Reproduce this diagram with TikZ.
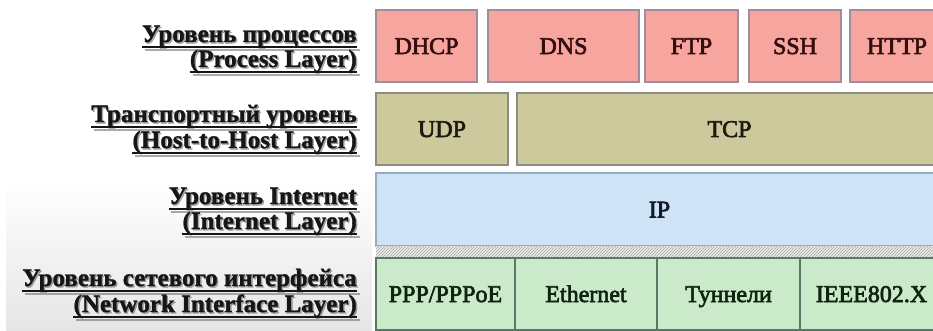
\documentclass[tikz,border=0pt]{standalone}
\usepackage{fontspec}
\setmainfont{Liberation Serif}
\newfontfamily\cellfont[FakeBold=2.6]{Liberation Serif}
\newfontfamily\capfont[BoldFeatures={FakeBold=1.2}]{Liberation Serif}
\usetikzlibrary{patterns}

% colours of the four protocol layers
\definecolor{procfill}{RGB}{246,166,158}
\definecolor{procline}{RGB}{160,140,156}
\definecolor{proctext}{RGB}{52,14,14}
\definecolor{hostfill}{RGB}{205,201,156}
\definecolor{hostline}{RGB}{140,140,130}
\definecolor{hosttext}{RGB}{28,27,16}
\definecolor{inetfill}{RGB}{206,228,246}
\definecolor{inetline}{RGB}{150,170,192}
\definecolor{inettext}{RGB}{18,26,44}
\definecolor{netfill}{RGB}{202,234,202}
\definecolor{netline}{RGB}{88,120,104}
\definecolor{nettext}{RGB}{16,34,16}
\definecolor{lbltext}{RGB}{22,22,22}

% one underlined, shadowed line of a layer caption, right-aligned at its base
\newcommand\layerline[3]{%
  \node[lblshadow] (#1s) at ([xshift=1.4pt,yshift=-1.4pt]#2) {#3};
  \draw[ulshadow] ([xshift=1.4pt,yshift=-6.4pt]#1s.base west) -- ([xshift=1.4pt,yshift=-6.4pt]#1s.base east);
  \node[lbl] (#1) at (#2) {#3};
  \draw[ulrule] ([yshift=-5pt]#1.base west) -- ([yshift=-5pt]#1.base east);
}

\begin{document}
\begin{tikzpicture}[x=1pt,y=-1pt,
  lbl/.style={anchor=base east,inner sep=0pt,text=lbltext,
    font=\capfont\fontsize{25}{29}\selectfont\bfseries},
  lblshadow/.style={lbl,text=black!60,opacity=0.55},
  ulrule/.style={draw=lbltext,line width=1.5pt},
  ulshadow/.style={draw=black!60,line width=1.5pt,opacity=0.55},
  cell/.style={inner sep=0pt,text height=16pt,text depth=0pt,
    font=\cellfont\fontsize{24}{28}\selectfont,line width=1.1pt},
  proc/.style={cell,draw=procline,fill=procfill,text=proctext,minimum height=72pt},
  host/.style={cell,draw=hostline,fill=hostfill,text=hosttext,minimum height=72pt},
  inet/.style={cell,draw=inetline,fill=inetfill,text=inettext,minimum height=73pt},
  net/.style={cell,draw=netline,fill=netfill,text=nettext,minimum height=72pt},
]
\useasboundingbox (0,0) rectangle (933,331);
\clip (0,0) rectangle (933,331);
\fill[white] (0,0) rectangle (933,331);
% soft grey fade behind the lower captions
\shade[top color=white,bottom color=black!10] (6,180) rectangle (372,331);

% Process layer
\node[proc,minimum width=101pt] (dhcp) at (426.5,46) {DHCP};
\node[proc,minimum width=151pt] (dns)  at (563.5,46) {DNS};
\node[proc,minimum width=93pt]  (ftp)  at (691.5,46) {FTP};
\node[proc,minimum width=92pt]  (ssh)  at (795,46)   {SSH};
\node[proc,minimum width=94pt]  (http) at (897,46)   {HTTP};

% Host-to-host layer
\node[host,minimum width=132pt] (udp) at (442,129)   {UDP};
\node[host,minimum width=425pt] (tcp) at (729.5,129) {TCP};

% Internet layer
\node[inet,minimum width=567pt] (ip) at (659.5,209.5) {IP};

% hatched seam between internet and network interface layers
\fill[black!8] (376,246) rectangle (943,258);
\fill[pattern=north east lines,pattern color=black!35] (376,246) rectangle (943,258);

% Network interface layer
\node[net,minimum width=139pt] (ppp)  at (445.5,294) {PPP/PPPoE};
\node[net,minimum width=142pt] (eth)  at (586,294)   {Ethernet};
\node[net,minimum width=143pt] (tun)  at (728.5,294) {Туннели};
\node[net,minimum width=143pt] (ieee) at (871.5,294) {IEEE802.X};

% layer captions
\layerline{capa}{357,42}{Уровень процессов}
\layerline{capb}{357,67}{(Process Layer)}
\layerline{capc}{357,122}{Транспортный уровень}
\layerline{capd}{357,148}{(Host-to-Host Layer)}
\layerline{cape}{357,204}{Уровень Internet}
\layerline{capf}{357,229}{(Internet Layer)}
\layerline{capg}{357,286}{Уровень сетевого интерфейса}
\layerline{caph}{357,312}{(Network Interface Layer)}
\end{tikzpicture}
\end{document}
